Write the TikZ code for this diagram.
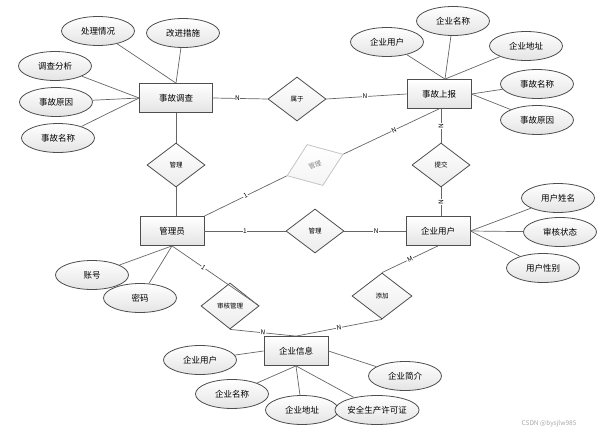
\documentclass[tikz,border=0pt]{standalone}
\usepackage{fontspec}
\setmainfont{Noto Sans CJK SC}
\usetikzlibrary{shapes.geometric, shadows}
\definecolor{cedge}{HTML}{4E4E4E}
\definecolor{cline}{HTML}{666666}
\definecolor{cfill}{HTML}{E4E4E4}
\definecolor{cfade}{HTML}{C4C4C4}
\definecolor{cfadetext}{HTML}{858585}
\definecolor{cmark}{HTML}{A8A8A8}
\tikzset{
  every picture/.style={line width=0.8pt},
  entity/.style={draw=cedge, top color=white, bottom color=cfill, minimum width=64pt, minimum height=29pt,
    inner sep=2pt, font=\fontsize{8.5}{10}\selectfont,
    drop shadow={shadow xshift=0.8pt, shadow yshift=-0.8pt, fill=black!45, opacity=0.5}},
  attr/.style={ellipse, draw=cedge, top color=white, bottom color=cfill, minimum width=73pt, minimum height=29pt,
    inner sep=0pt, font=\fontsize{8.5}{10}\selectfont},
  rel/.style={diamond, draw=cedge, top color=white, bottom color=cfill!70, minimum width=58pt, minimum height=44pt,
    inner sep=0pt, font=\fontsize{6.5}{8}\selectfont},
  faded/.style={rel, draw=cfade, text=cfadetext, bottom color=cfill!40},
  link/.style={draw=cline, line width=0.7pt},
  card/.style={fill=white, inner sep=0.6pt, font=\fontsize{6.5}{7}\selectfont},
}

\begin{document}
\begin{tikzpicture}[x=1pt, y=-1pt]
  \useasboundingbox (0,0) rectangle (604,436);
  % entities
  \node[entity, minimum width=73pt] (sgdc) at (176,98) {事故调查};
  \node[entity] (sgsb) at (439,94) {事故上报};
  \node[entity] (gly) at (172,231) {管理员};
  \node[entity] (qyyh) at (438,231) {企业用户};
  \node[entity] (qyxx) at (296,351) {企业信息};
  % relationships
  \node[rel] (shuyu) at (297,99) {属于};
  \node[rel] (glup) at (176,165) {管理};
  \node[rel] (tijiao) at (441,165) {提交};
  \node[rel] (glmid) at (315,231) {管理};
  \node[rel, minimum height=46pt] (shgl) at (230,306) {审核管理};
  \node[rel, minimum width=60pt, minimum height=46pt] (tianjia) at (382,296) {添加};
  \node[faded, minimum width=60pt, rotate=21] (glfade) at (315,165) {管理};
  % attributes of 事故调查
  \node[attr] (clqk) at (98,31) {处理情况};
  \node[attr] (gjcs) at (183,33) {改进措施};
  \node[attr] (dcfx) at (55,66) {调查分析};
  \node[attr] (sgyy) at (56,102) {事故原因};
  \node[attr] (sgmc) at (58,138) {事故名称};
  % attributes of 事故上报
  \node[attr] (sbyh) at (387,42) {企业用户};
  \node[attr] (sbmc) at (453,21) {企业名称};
  \node[attr] (sbdz) at (526,46) {企业地址};
  \node[attr] (sbsg) at (537,84) {事故名称};
  \node[attr] (sbyy) at (537,120) {事故原因};
  % attributes of 企业用户
  \node[attr] (yhxm) at (558,198) {用户姓名};
  \node[attr] (shzt) at (560,232) {审核状态};
  \node[attr] (yhxb) at (543,268) {用户性别};
  % attributes of 管理员
  \node[attr] (zh) at (92,275) {账号};
  \node[attr] (mm) at (140,298) {密码};
  % attributes of 企业信息
  \node[attr] (xxyh) at (200,360) {企业用户};
  \node[attr] (xxmc) at (232,394) {企业名称};
  \node[attr] (xxdz) at (302,410) {企业地址};
  \node[attr] (aqxk) at (377,410) {安全生产许可证};
  \node[attr] (qyjj) at (405,376) {企业简介};

  % attribute links
  \foreach \a in {clqk, gjcs} \draw[link] (\a) -- (sgdc.north);
  \foreach \a in {dcfx, sgyy, sgmc} \draw[link] (\a) -- (sgdc.west);
  \foreach \a in {sbyh, sbmc, sbdz} \draw[link] (\a) -- ([xshift=6pt]sgsb.north);
  \foreach \a in {sbsg, sbyy} \draw[link] (\a) -- (sgsb.east);
  \foreach \a in {yhxm, shzt, yhxb} \draw[link] (\a) -- (qyyh.east);
  \foreach \a in {zh, mm} \draw[link] (\a) -- (gly.south);
  \draw[link] (xxyh) -- (qyxx.west);
  \foreach \a in {xxmc, xxdz, aqxk} \draw[link] (\a) -- (qyxx.south);
  \draw[link] (qyjj) -- (qyxx.east);

  % relationship links
  \draw[link] (sgdc.east) -- node[card, pos=0.45] {N} (shuyu.west);
  \draw[link] (shuyu.east) -- node[card, pos=0.48] {N} (sgsb.west);
  \draw[link] (sgdc.south) -- (glup.north);
  \draw[link] (glup.south) -- (glup.south |- gly.north);
  \draw[link] (gly.north east) -- node[card, sloped] {1} (glfade.west);
  \draw[link] (glfade.east) -- node[card, sloped, pos=0.53] {N} (sgsb.south);
  \draw[link] (tijiao.north |- sgsb.south) -- node[card, rotate=90] {N} (tijiao.north);
  \draw[link] (tijiao.south) -- node[card, rotate=90] {N} (tijiao.south |- qyyh.north);
  \draw[link] (gly.east) -- node[card] {1} (glmid.west);
  \draw[link] (glmid.east) -- node[card, pos=0.52] {N} (qyyh.west);
  \draw[link] (gly.south) -- node[card, sloped, pos=0.36] {1} (shgl.east);
  \draw[link] (shgl.south) -- node[card, sloped] {N} (qyxx.north);
  \draw[link] (tianjia.south) -- node[card, sloped] {N} (qyxx.north);
  \draw[link] (qyyh.south) -- node[card, sloped] {M} (tianjia.north);

  \node[text=cmark, font=\fontsize{6.5}{7}\selectfont] (mark) at (549,424) {CSDN @bysjlw985};
\end{tikzpicture}
\end{document}
